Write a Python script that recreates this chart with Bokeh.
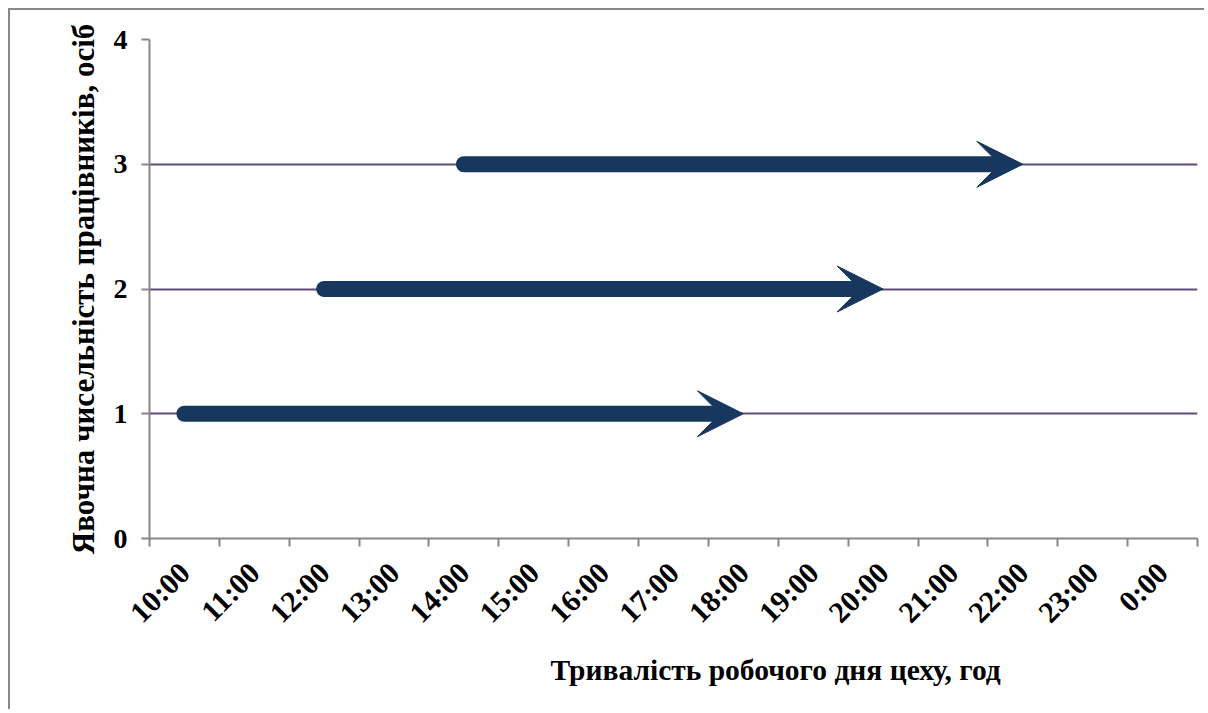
import math
from bokeh.plotting import figure
from bokeh.models import FixedTicker, Arrow, VeeHead, ColumnDataSource, Range1d, Title
from bokeh.embed import file_html
from bokeh.resources import INLINE

# ---- data ----
tick_labels = ["10:00", "11:00", "12:00", "13:00", "14:00", "15:00", "16:00", "17:00",
               "18:00", "19:00", "20:00", "21:00", "22:00", "23:00", "0:00"]
tick_hours = [10, 11, 12, 13, 14, 15, 16, 17, 18, 19, 20, 21, 22, 23, 24]
start_hours = [10, 12, 14]
end_hours = [18, 20, 22]
workers = [1, 2, 3]
y_ticks = [0, 1, 2, 3, 4]

x_title = "Тривалість робочого дня цеху, год"
y_title = "Явочна чисельність працівників, осіб"

NAVY = "#17375E"
GRID = "#604A7B"
AXIS = "#878787"
FONT = "Liberation Serif"

W, H = 1196, 701
ML, MT, MR, MB = 139, 29, 9, 173
x_lo, x_hi = tick_hours[0] - 0.5, tick_hours[-1] + 0.5
frame_w = W - ML - MR
px_per_hour = frame_w / (x_hi - x_lo)
HEAD = 46

p = figure(width=W, height=H,
           x_range=Range1d(x_lo, x_hi),
           y_range=Range1d(y_ticks[0], y_ticks[-1]),
           output_backend="svg", toolbar_location=None,
           min_border_left=ML, min_border_top=MT, min_border_right=MR, min_border_bottom=MB)
p.styles = {"margin-left": "8px", "margin-top": "8px",
            "border-left": "2px solid #878787", "border-top": "2px solid #878787"}
p.outline_line_color = None
p.background_fill_color = "white"
p.border_fill_color = "white"

# grid
p.xgrid.visible = False
p.ygrid.ticker = FixedTicker(ticks=y_ticks[1:])
p.ygrid.grid_line_color = GRID
p.ygrid.grid_line_width = 2

# x axis
boundaries = [h - 0.5 for h in tick_hours] + [tick_hours[-1] + 0.5]
p.xaxis.ticker = FixedTicker(ticks=tick_hours, minor_ticks=boundaries)
p.xaxis.major_label_overrides = {h: lab for h, lab in zip(tick_hours, tick_labels)}
p.xaxis.major_label_orientation = math.pi / 4
p.xaxis.major_tick_out = 0
p.xaxis.major_tick_in = 0
p.xaxis.minor_tick_out = 8
p.xaxis.minor_tick_in = 0
p.xaxis.minor_tick_line_color = AXIS
p.xaxis.minor_tick_line_width = 2
p.xaxis.axis_line_color = AXIS
p.xaxis.axis_line_width = 2
p.xaxis.major_label_standoff = 21
p.xaxis.major_label_text_font = FONT
p.xaxis.major_label_text_font_style = "bold"
p.xaxis.major_label_text_font_size = "30px"
p.xaxis.major_label_text_color = "black"

# y axis
p.yaxis.ticker = FixedTicker(ticks=y_ticks)
p.yaxis.major_tick_out = 8
p.yaxis.major_tick_in = 0
p.yaxis.minor_tick_line_color = None
p.yaxis.major_tick_line_color = AXIS
p.yaxis.major_tick_line_width = 2
p.yaxis.axis_line_color = AXIS
p.yaxis.axis_line_width = 2
p.yaxis.major_label_standoff = 14
p.yaxis.major_label_text_font = FONT
p.yaxis.major_label_text_font_style = "bold"
p.yaxis.major_label_text_font_size = "28px"
p.yaxis.major_label_text_color = "black"
p.yaxis.axis_label = y_title
p.yaxis.axis_label_text_font = FONT
p.yaxis.axis_label_text_font_style = "bold"
p.yaxis.axis_label_text_font_size = "31px"
p.yaxis.axis_label_text_color = "black"
p.yaxis.axis_label_standoff = 10

# arrows: shaft (round start) + stealth head
shaft_end = [e - 24 / px_per_hour for e in end_hours]
p.segment(x0=start_hours, y0=workers, x1=shaft_end, y1=workers,
          line_color=NAVY, line_width=16, line_cap="round")
src = ColumnDataSource(dict(x0=start_hours, x1=end_hours, y=workers))
p.add_layout(Arrow(end=VeeHead(size=HEAD, fill_color=NAVY, line_color=NAVY, line_width=1),
                   x_start="x0", y_start="y", x_end="x1", y_end="y", source=src,
                   line_alpha=0, line_width=1))

# x axis title, shifted right as in the original
p.add_layout(Title(text=x_title, align="left", offset=401, text_font=FONT,
                   text_font_style="bold", text_font_size="29.5px", text_color="black",
                   standoff=16), "below")

open("out.html", "w").write(file_html(p, INLINE))
